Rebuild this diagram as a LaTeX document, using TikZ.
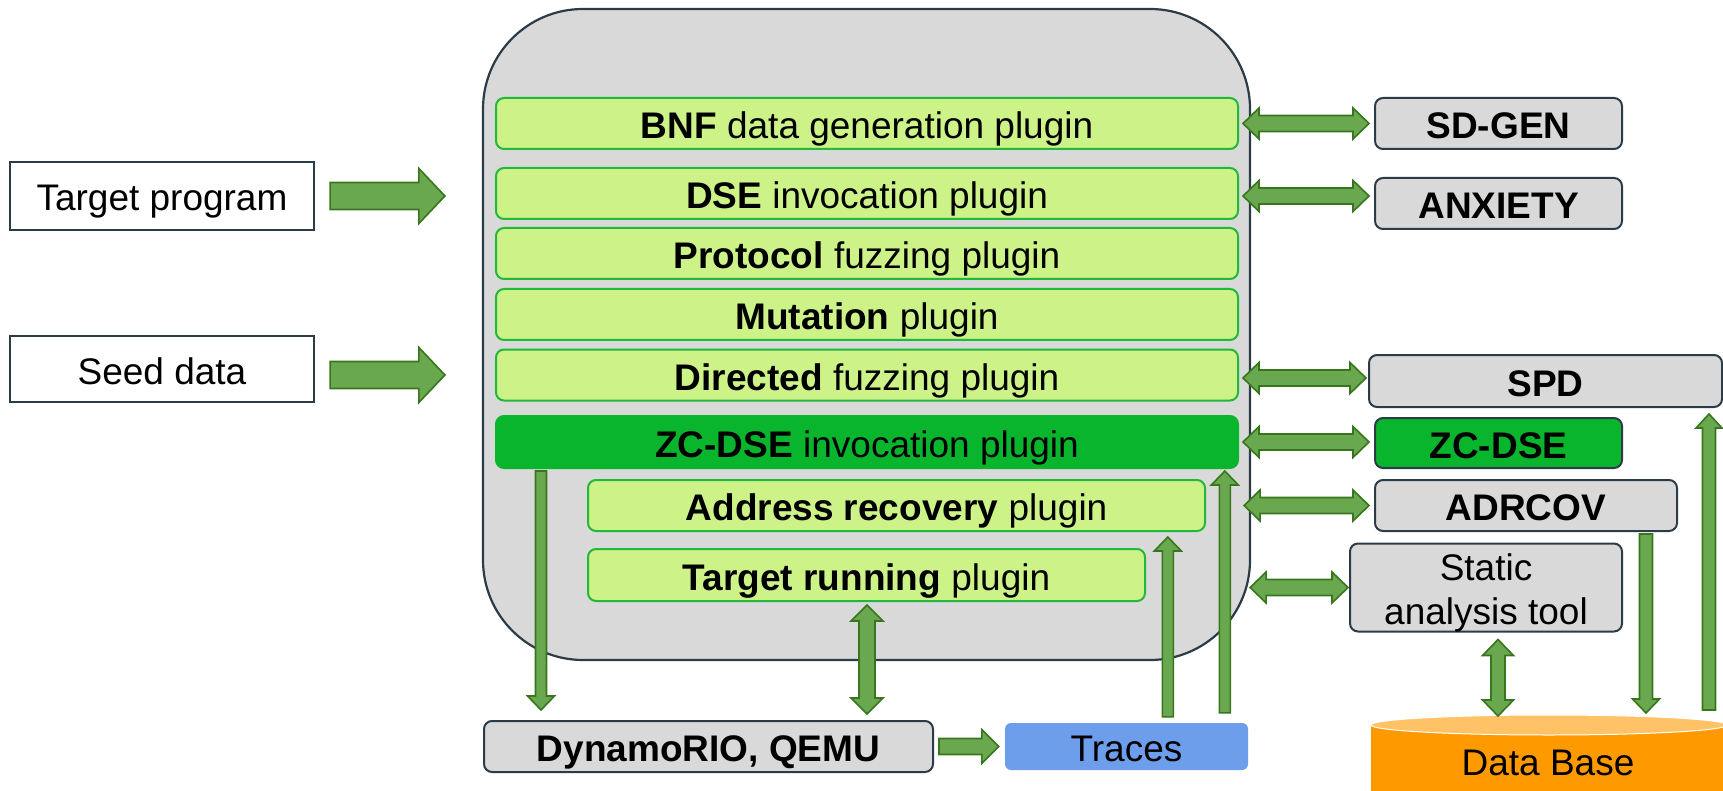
\documentclass[tikz,border=0pt]{standalone}
\usepackage{fontspec}
\setmainfont{Liberation Sans}
\usetikzlibrary{calc}
\definecolor{contfill}{HTML}{D9D9D9}
\definecolor{darkb}{HTML}{2B3C48}
\definecolor{plugfill}{HTML}{CDF287}
\definecolor{plugline}{HTML}{22B83A}
\definecolor{zcgreen}{HTML}{09B52C}
\definecolor{arrfill}{HTML}{6AA84F}
\definecolor{arrline}{HTML}{38761D}
\definecolor{tracesblue}{HTML}{6D9EEB}
\definecolor{dborange}{HTML}{FF9900}
\definecolor{dblight}{HTML}{FFC266}
% double-headed block arrow: #1 start, #2 end, #3 half shaft, #4 half head, #5 head length
\newcommand{\fatdbl}[5]{%
  \coordinate (faA) at ($(#1)!#5!(#2)$);
  \coordinate (faB) at ($(#2)!#5!(#1)$);
  \filldraw[fatarrow] (#1) -- ($(faA)!#4!90:(#2)$) -- ($(faA)!#3!90:(#2)$)
    -- ($(faB)!#3!-90:(#1)$) -- ($(faB)!#4!-90:(#1)$) -- (#2)
    -- ($(faB)!#4!90:(#1)$) -- ($(faB)!#3!90:(#1)$)
    -- ($(faA)!#3!-90:(#2)$) -- ($(faA)!#4!-90:(#2)$) -- cycle;}
% single-headed block arrow
\newcommand{\fatsgl}[5]{%
  \coordinate (faB) at ($(#2)!#5!(#1)$);
  \filldraw[fatarrow] ($(#1)!#3!90:(#2)$) -- ($(faB)!#3!-90:(#1)$)
    -- ($(faB)!#4!-90:(#1)$) -- (#2) -- ($(faB)!#4!90:(#1)$)
    -- ($(faB)!#3!90:(#1)$) -- ($(#1)!#3!-90:(#2)$) -- cycle;}
\begin{document}
\begin{tikzpicture}[x=1pt,y=-1pt,
  every node/.style={font=\fontsize{37}{44}\selectfont, inner sep=0pt},
  lbl/.style={text height=30pt, text depth=0pt},
  plain/.style={draw=darkb, line width=2.2pt, fill=white},
  plug/.style={draw=plugline, line width=2pt, fill=plugfill, rounded corners=8pt, minimum height=51pt},
  tool/.style={draw=darkb, line width=2pt, fill=contfill, rounded corners=8pt},
  fatarrow/.style={fill=arrfill, draw=arrline, line width=1.6pt, line join=miter}]
\useasboundingbox (0,0) rectangle (1723,791);

% inputs
\node[plain, lbl, minimum width=304pt, minimum height=68pt] (target) at (162,196) {Target program};
\node[plain, lbl, minimum width=304pt, minimum height=66pt] (seed) at (162,369) {Seed data};

% container
\node[draw=darkb, line width=2.2pt, fill=contfill, rounded corners=100pt,
      minimum width=767pt, minimum height=651pt] (cont) at (866.5,334.5) {};

% plugins
\node[plug, lbl, minimum width=742pt] (bnf) at (867,123.5) {\textbf{BNF} data generation plugin};
\node[plug, lbl, minimum width=742pt] (dse) at (867,193.5) {\textbf{DSE} invocation plugin};
\node[plug, lbl, minimum width=742pt] (proto) at (867,253.5) {\textbf{Protocol} fuzzing plugin};
\node[plug, lbl, minimum width=742pt] (mut) at (867,314.5) {\textbf{Mutation} plugin};
\node[plug, lbl, minimum width=742pt] (dir) at (867,375) {\textbf{Directed} fuzzing plugin};
\node[plug, lbl, minimum width=742pt, minimum height=52pt, fill=zcgreen, draw=zcgreen] (zc) at (867,442) {\textbf{ZC-DSE} invocation plugin};
\node[plug, lbl, minimum width=617pt] (addr) at (896.5,505.5) {\textbf{Address recovery} plugin};
\node[plug, lbl, minimum width=557pt, minimum height=52pt] (trun) at (866.5,575) {\textbf{Target running} plugin};

% tools
\node[tool, lbl, minimum width=247pt, minimum height=51pt] (sdgen) at (1498.5,123.5) {\textbf{SD-GEN}};
\node[tool, lbl, minimum width=247pt, minimum height=51pt] (anx) at (1498.5,203.5) {\textbf{ANXIETY}};
\node[tool, lbl, minimum width=353pt, minimum height=52pt] (spd) at (1545.5,381) {\textbf{SPD}};
\node[tool, lbl, minimum width=247pt, minimum height=50pt, fill=zcgreen] (zcb) at (1498.5,443) {\textbf{ZC-DSE}};
\node[tool, lbl, minimum width=302pt, minimum height=51pt] (adr) at (1526,505.5) {\textbf{ADRCOV}};
\node[tool, minimum width=272pt, minimum height=83pt] (stat) at (1486,587.5)
  {\raisebox{-6pt}[\height][\depth]{\begin{tabular}{@{}c@{}}Static\\analysis tool\end{tabular}}};
\node[tool, lbl, minimum width=449pt, minimum height=51pt] (dyn) at (708.5,746.5) {\textbf{DynamoRIO, QEMU}};
\node[fill=tracesblue, rounded corners=6pt, lbl, minimum width=243pt, minimum height=47pt] (traces) at (1126.5,746.5) {Traces};

% data base
\fill[dborange] (1371,725) rectangle (1727,800);
\filldraw[fill=dblight, draw=white, line width=1pt] (1549,725) ellipse [x radius=178pt, y radius=10pt];
\node[lbl] (db) at (1548,760) {Data Base};
\coordinate (dbtop) at (1549,716);

% arrow end points
\coordinate (t1) at ($(target.east)+(15,0)$);
\coordinate (t2) at ($(t1 -| cont.west)+(-37,0)$);
\coordinate (s1) at ($(seed.east)+(15,6)$);
\coordinate (s2) at ($(s1 -| cont.west)+(-37,0)$);
\coordinate (b1) at ($(bnf.east)+(4,0)$);
\coordinate (b2) at ($(b1 -| sdgen.west)+(-5,0)$);
\coordinate (d1) at ($(dse.east)+(4,2.5)$);
\coordinate (d2) at ($(d1 -| anx.west)+(-5,0)$);
\coordinate (r1) at ($(dir.east)+(4,3)$);
\coordinate (r2) at ($(r1 -| spd.west)+(-2,0)$);
\coordinate (z1) at ($(zc.east)+(4,0)$);
\coordinate (z2) at ($(z1 -| zcb.west)+(-5,0)$);
\coordinate (a1) at ($(adr.west -| cont.east)+(-7,0)$);
\coordinate (a2) at ($(adr.west)+(-5,0)$);
\coordinate (st1) at ($(stat.west -| cont.east)+(-1,0)$);
\coordinate (st2) at ($(stat.west)+(-1,0)$);
\coordinate (sd1) at ($(stat.south)+(12,7)$);
\coordinate (sd2) at (sd1 |- dbtop);
\coordinate (ad1) at ($(adr.south)+(120,2)$);
\coordinate (ad2) at ($(ad1 |- dbtop)+(0,-3)$);
\coordinate (du2) at ($(spd.south)+(163.5,6)$);
\coordinate (du1) at ($(du2 |- dbtop)+(0,-6)$);
\coordinate (zd1) at ($(zc.south west)+(46,2)$);
\coordinate (zd2) at ($(zd1 |- dyn.north)+(0,-10)$);
\coordinate (td1) at ($(trun.south)+(0.5,3)$);
\coordinate (td2) at ($(td1 |- dyn.north)+(0,-6)$);
\coordinate (ta1) at ($(traces.north west)+(163,-6)$);
\coordinate (ta2) at ($(ta1 |- addr.south)+(0,5)$);
\coordinate (tz1) at ($(traces.north west)+(220,-10)$);
\coordinate (tz2) at ($(tz1 |- zc.south)+(0,2)$);
\coordinate (dt1) at ($(dyn.east)+(5,0)$);
\coordinate (dt2) at ($(dt1 -| traces.west)+(-6,0)$);

% arrows
\fatsgl{t1}{t2}{13.5pt}{27.5pt}{26pt}
\fatsgl{s1}{s2}{13.5pt}{27.5pt}{26pt}
\fatdbl{b1}{b2}{8pt}{15.5pt}{16pt}
\fatdbl{d1}{d2}{8pt}{15.5pt}{16pt}
\fatdbl{r1}{r2}{8pt}{15.5pt}{16pt}
\fatdbl{z1}{z2}{8pt}{15.5pt}{16pt}
\fatdbl{a1}{a2}{8pt}{15.5pt}{16pt}
\fatdbl{st1}{st2}{8pt}{15.5pt}{16pt}
\fatdbl{sd1}{sd2}{7pt}{15.5pt}{16pt}
\fatsgl{ad1}{ad2}{6.5pt}{13.5pt}{14pt}
\fatsgl{du1}{du2}{6.5pt}{13pt}{14pt}
\fatsgl{zd1}{zd2}{5.5pt}{13.5pt}{14pt}
\fatdbl{td1}{td2}{8pt}{16pt}{16pt}
\fatsgl{ta1}{ta2}{5.5pt}{13.5pt}{14pt}
\fatsgl{tz1}{tz2}{5.5pt}{13.5pt}{14pt}
\fatsgl{dt1}{dt2}{8pt}{17pt}{17pt}
\end{tikzpicture}
\end{document}
